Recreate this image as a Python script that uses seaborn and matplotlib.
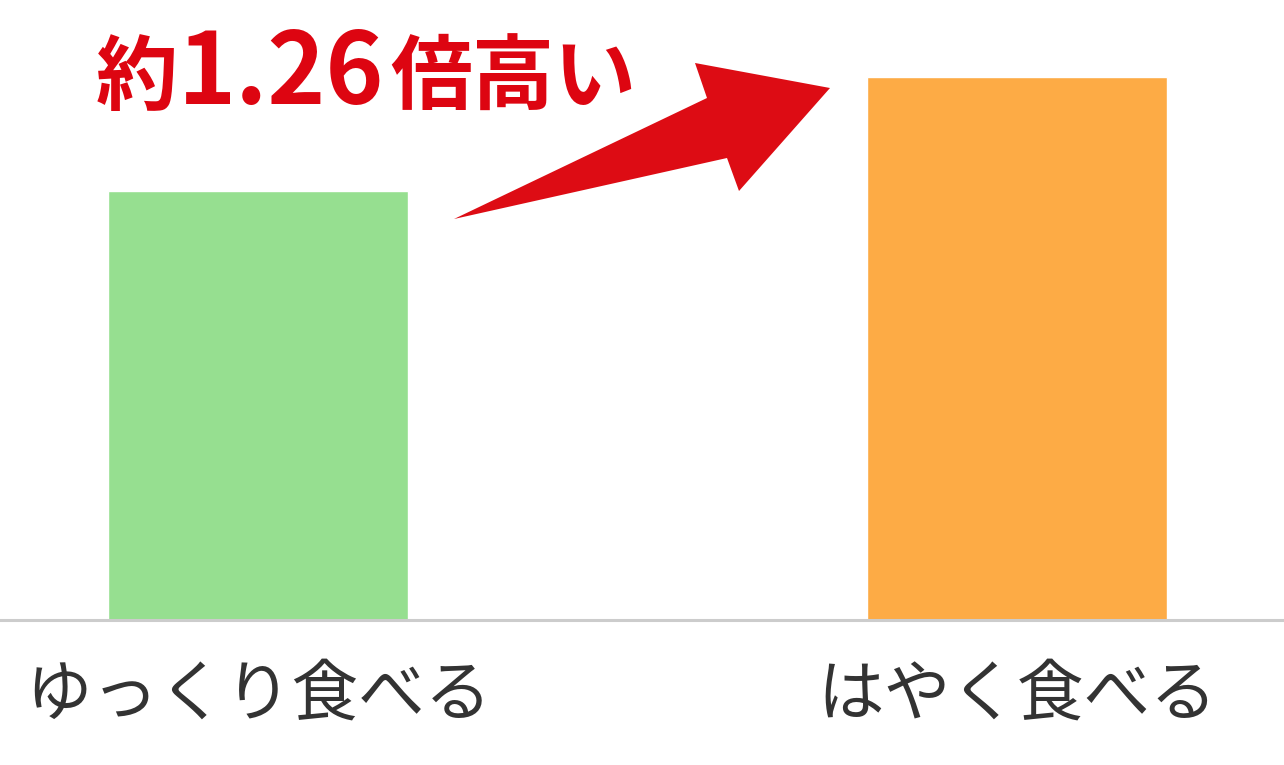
#!/usr/bin/env python3
import matplotlib
matplotlib.use("Agg")
import matplotlib.pyplot as plt
from matplotlib.patches import Polygon
import pandas as pd
import seaborn as sns

# data
categories = ["ゆっくり食べる", "はやく食べる"]
values = [100, 126.6]
bar_colors = ["#96df90", "#fdab45"]
headline_pre = "約"
headline_num = "1.26"
headline_post = "倍高い"

sns.set_style("white")
plt.rcParams["font.family"] = ["Noto Sans CJK JP", "DejaVu Sans"]

df = pd.DataFrame({"group": categories, "value": values})

W, H = 1284, 765
fig = plt.figure(figsize=(W / 100, H / 100), dpi=100)
ax = fig.add_axes([0, 145 / H, 1, 620 / H])

sns.barplot(data=df, x="group", y="value", hue="group", palette=bar_colors,
            width=0.395, legend=False, ax=ax, saturation=1)

ax.set_xlim(-0.34, 1.352)
ax.set_ylim(0, 144.5)
ax.set_xlabel("")
ax.set_ylabel("")
ax.set_yticks([])
for s in ["top", "left", "right"]:
    ax.spines[s].set_visible(False)
ax.spines["bottom"].set_color("#cccccc")
ax.spines["bottom"].set_linewidth(2.2)
ax.spines["bottom"].set_zorder(5)
ax.tick_params(axis="x", length=0, pad=30, labelsize=48, labelcolor="#333333")


def fpx(x, y):
    # pixel position (from top-left) -> figure fraction
    return x / W, 1 - y / H


# headline text
red = "#dd0511"
fig.text(*fpx(96, 104), headline_pre, color=red, fontsize=59, fontweight="bold",
         ha="left", va="baseline")
fig.text(*fpx(178, 104), headline_num, color=red, fontsize=71, fontweight="bold",
         ha="left", va="baseline")
fig.text(*fpx(390, 104), headline_post, color=red, fontsize=59, fontweight="bold",
         ha="left", va="baseline")

# tapered arrow between the bars
arrow_px = [(454, 219), (707, 98), (695, 63), (830, 88), (739, 191), (727, 158)]
fig.add_artist(Polygon([fpx(x, y) for x, y in arrow_px], closed=True,
                       transform=fig.transFigure, facecolor="#dd0c14",
                       edgecolor="none"))

fig.savefig("out.png", dpi=100)
